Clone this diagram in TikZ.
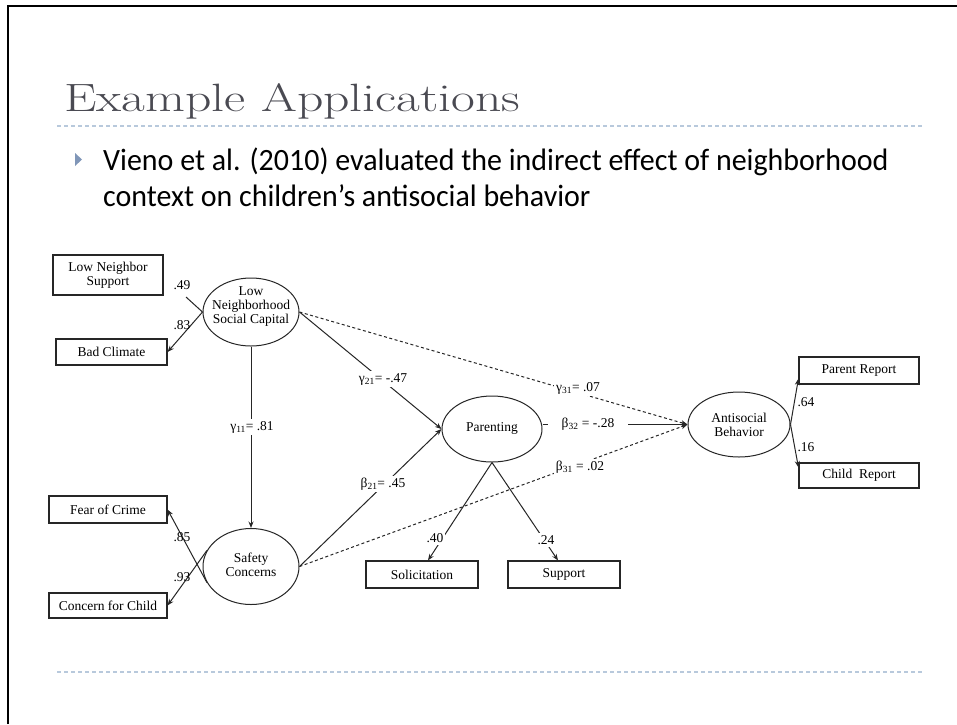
\documentclass[tikz,border=0pt]{standalone}
\usepackage{fontspec}
\usepackage{graphicx}
\usetikzlibrary{arrows.meta,shapes.geometric}
\newfontfamily\diafam{Liberation Serif}
\newfontfamily\bodyfam{Carlito}
\definecolor{ink}{HTML}{262626}
\definecolor{titlegray}{HTML}{4A4A52}
\definecolor{dashcol}{HTML}{B8C9DC}
\definecolor{bulletcol}{HTML}{8096B8}
\newsavebox\prefbox
\newdimen\mylen
\newcommand\bodyf{\bodyfam\fontsize{31}{36}\selectfont}
\begin{document}
\sbox\prefbox{\bodyf Vieno et al. (2010) evaluated the indirect effect o}%
\mylen=\wd\prefbox
\pgfmathsetmacro\bsc{597/\mylen}%
\begin{tikzpicture}[x=1pt,y=-1pt,
  ind/.style={draw=ink,line width=1.1pt,inner sep=0pt,font=\diafam\fontsize{13.5}{14}\selectfont,align=center},
  lat/.style={ellipse,draw=ink,line width=1pt,inner sep=0pt},
  lattxt/.style={inner sep=0pt,align=center,font=\diafam\fontsize{13.5}{14}\selectfont},
  coef/.style={inner sep=1pt,font=\diafam\fontsize{13.5}{14}\selectfont},
  lab/.style={coef,fill=white,inner sep=2pt},
  ln/.style={draw=ink,line width=1pt},
  arr/.style={ln,-{Stealth[length=6.5pt,width=5pt]}},
  dsh/.style={ln,dash pattern=on 3pt off 2.5pt},
  sep/.style={draw=dashcol,line width=1.3pt,dash pattern=on 4pt off 3pt}
]
\useasboundingbox (0,0) rectangle (957,724);
\fill[white] (0,0) rectangle (957,724);
% frame
\draw[line width=2pt,black] (7.7,724) -- (7.7,5.7) -- (957,5.7);
% title
\node[anchor=base west,inner sep=0pt,text=titlegray] (title) at (64,111)
  {\resizebox{456pt}{\height}{\fontsize{39.5}{44}\selectfont Example Applications}};
\draw[sep] (57,126) -- (923,126);
\draw[sep] (57,672) -- (923,672);
% bullet
\fill[bulletcol] (75,153) -- (82,159.5) -- (75,166) -- cycle;
\node[anchor=base west,inner sep=0pt] (b1) at (103,170)
  {\scalebox{\bsc}[1]{\bodyf Vieno et al. (2010) evaluated the indirect effect of neighborhood}};
\node[anchor=base west,inner sep=0pt] (b2) at (103,206)
  {\scalebox{\bsc}[1]{\bodyf context on children’s antisocial behavior}};

% indicator boxes
\node[ind,minimum width=110pt,minimum height=40pt] (lns) at (108,275) {Low Neighbor\\Support};
\node[ind,minimum width=111pt,minimum height=26pt] (bc) at (111.5,352) {Bad Climate};
\node[ind,minimum width=118pt,minimum height=27pt] (foc) at (108,509.5) {Fear of Crime};
\node[ind,minimum width=118pt,minimum height=25pt] (cfc) at (108,605.5) {Concern for Child};
\node[ind,minimum width=112pt,minimum height=27pt] (sol) at (422,574.5) {Solicitation};
\node[ind,minimum width=112pt,minimum height=27pt] (sup) at (564,574.5) {Support};
\node[ind,minimum width=120pt,minimum height=27pt] (pr) at (859,370.5) {Parent Report};
\node[ind,minimum width=120pt,minimum height=25pt] (cr) at (859,475.5) {Child\ \ Report};

% latent variables
\node[lat,minimum width=96pt,minimum height=68pt] (lnsc) at (251,312) {};
\node[lattxt] (lnsct) at (251,307) {Low\\Neighborhood\\Social Capital};
\node[lat,minimum width=96pt,minimum height=76pt] (safe) at (251,566.5) {};
\node[lattxt] (safet) at (251,565) {Safety\\Concerns};
\node[lat,minimum width=100pt,minimum height=66pt] (par) at (492,429) {};
\node[lattxt] (part) at (492,428) {Parenting};
\node[lat,minimum width=102pt,minimum height=65pt] (anti) at (739,424.5) {};
\node[lattxt] (antit) at (739,424.5) {Antisocial\\Behavior};

% measurement paths
\coordinate (c49) at (186,297);
\draw[ln] (c49) -- (lnsc.west);
\draw[arr] (lnsc.west) -- (bc.east);
\node[coef] (l49) at (182,285) {.49};
\node[coef] (l83) at (182,325) {.83};
\draw[arr] (safe.200) -- (foc.east);
\draw[arr] (safe.160) -- (cfc.east);
\node[coef] (l85) at (182,537) {.85};
\node[coef] (l93) at (182,577) {.93};
\draw[arr] (par.south) -- ([xshift=6pt]sol.north);
\draw[arr] (par.south) -- ([xshift=-6pt]sup.north);
\node[lab] (l40) at (435,538) {.40};
\node[lab] (l24) at (546,540) {.24};
\draw[arr] (anti.east) -- ([yshift=6pt]pr.south west);
\draw[arr] (anti.east) -- ([yshift=-5pt]cr.north west);
\node[coef] (l64) at (806,402) {.64};
\node[coef] (l16) at (806,447) {.16};

% structural paths
\draw[arr] (lnsc.south) -- (safe.north);
\node[lab] (g11) at (252,427) {γ\textsubscript{11}= .81};
\draw[arr] (lnsc.east) -- (par.west);
\node[lab] (g21) at (383,379) {γ\textsubscript{21}= -.47};
\draw[arr] (safe.east) -- (par.west);
\node[lab] (b21) at (383,484) {β\textsubscript{21}= .45};
\draw[dsh,-{Stealth[length=6.5pt,width=5pt]}] (lnsc.east) -- (anti.west);
\node[lab] (g31) at (578,388) {γ\textsubscript{31}= .07};
\draw[dsh,-{Stealth[length=6.5pt,width=5pt]}] (safe.east) -- (anti.west);
\node[lab] (b31) at (580,467) {β\textsubscript{31} = .02};
\draw[arr,line width=1.3pt] (par.east |- anti.west) -- (anti.west);
\node[lab,inner xsep=14pt] (b32) at (588,424.5) {β\textsubscript{32} = -.28};
\end{tikzpicture}
\end{document}
